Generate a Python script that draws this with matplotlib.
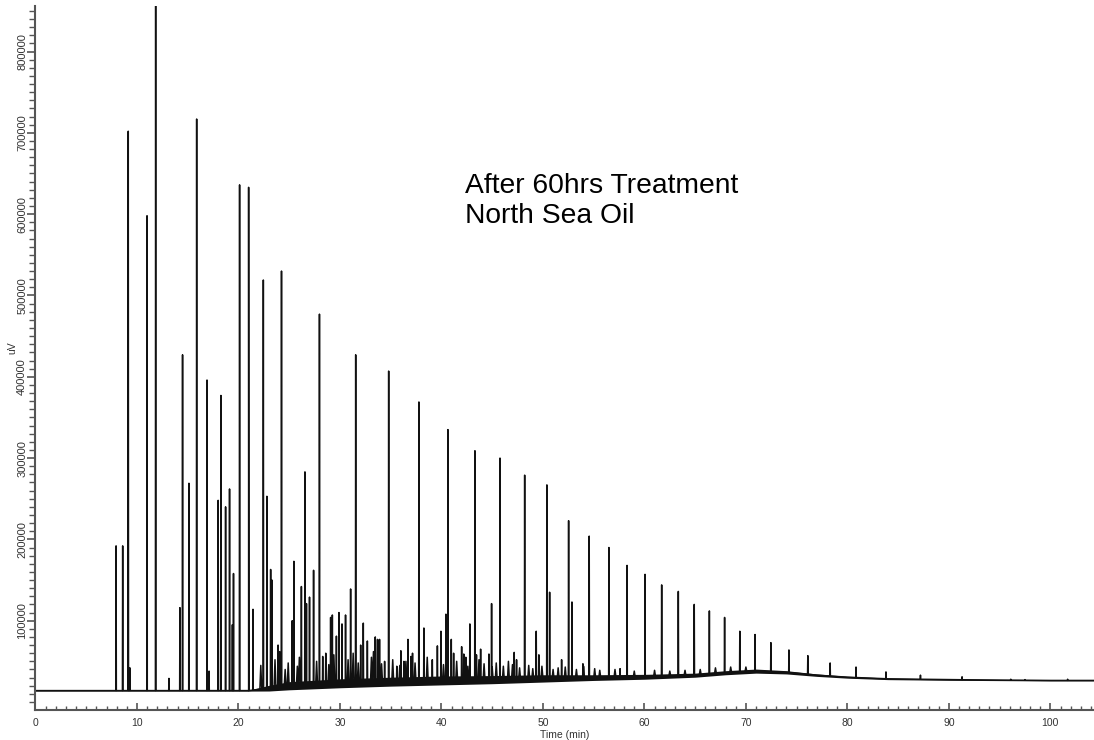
"""GC-FID chromatogram: North Sea oil after 60 hrs treatment."""
import numpy as np
import matplotlib
matplotlib.use("Agg")
import matplotlib.pyplot as plt
from matplotlib.ticker import MultipleLocator

plt.rcParams["font.family"] = ["Liberation Sans", "DejaVu Sans"]

# baseline of the trace (time in min, signal in uV)
base_t = [0, 7.5, 21, 23, 25, 30, 35, 40, 45, 50, 55, 60, 65, 68, 71, 74, 77, 80, 84, 90, 95, 100, 104.5]
base_v = [14000, 14000, 14000, 17000, 20000, 23000, 25000, 26500, 27500, 29000, 30000, 31000,
          33000, 36000, 38000, 36500, 33000, 30500, 28500, 27500, 27000, 26500, 26500]
# thickness of the noisy "grass" round the baseline
noise_v = [600, 600, 600, 3500, 5000, 5500, 5500, 5500, 5000, 4500, 3500, 3000,
           2500, 2500, 2500, 2000, 1500, 1200, 1000, 800, 700, 600, 600]

# resolved peaks: retention time (min) and apex signal (uV)
peak_t = [7.94, 8.59, 9.14, 9.3, 10.99, 11.84, 13.15, 14.23, 14.49, 15.12, 15.88, 16.90, 17.1,
          18.0, 18.27, 18.73, 19.12, 19.4, 19.51, 20.11, 21.0, 21.43, 22.45, 22.8, 23.17, 23.3,
          23.9, 24.05, 24.24, 25.3, 25.46, 26.2, 26.55, 26.7, 27.0, 27.4, 27.98, 28.3, 28.6,
          29.08, 29.25, 29.65, 29.9, 30.2, 30.55, 31.05, 31.55, 32.04, 32.3, 32.7, 33.48, 33.7,
          33.9, 34.4, 34.8, 35.6, 36.0, 36.3, 36.7, 37.0, 37.15, 37.78, 38.27, 39.1, 39.6, 39.95,
          40.44, 40.64, 40.97, 41.2, 41.99, 42.2, 42.4, 42.8, 43.3, 43.45, 43.86, 44.68, 44.94,
          45.77, 47.17, 47.4, 48.2, 49.34, 49.6, 50.39, 50.66, 51.84, 52.53, 52.86, 53.94, 54.56,
          56.5, 57.6, 58.29, 60.06, 61.7, 63.34, 64.91, 66.4, 67.9, 69.4, 70.9, 72.46, 74.24,
          76.1, 78.3, 80.85, 83.8, 87.2, 91.3, 96.1, 97.5, 101.7]
peak_v = [192000, 192000, 702000, 42000, 598000, 870000, 29000, 116000, 427000, 269000, 717000,
          396000, 38000, 248000, 377000, 240000, 262000, 95000, 158000, 636000, 633000, 114000,
          519000, 253000, 163000, 150000, 70000, 62000, 530000, 100000, 173000, 142000, 283000,
          121000, 129000, 162000, 477000, 56000, 60000, 104000, 107000, 81000, 110000, 96000,
          107000, 139000, 427000, 70000, 97000, 75000, 80000, 77000, 77000, 50000, 407000, 44000,
          63000, 50000, 77000, 56000, 60000, 369000, 91000, 52000, 69000, 87000, 108000, 335000,
          77000, 60000, 68000, 59000, 55000, 96000, 309000, 58000, 65000, 59000, 121000, 300000,
          61000, 52000, 279000, 87000, 58000, 267000, 135000, 52000, 223000, 123000, 47000, 204000,
          190000, 41000, 168000, 157000, 144000, 136000, 120000, 112000, 104000, 87000, 83000,
          73000, 64000, 57000, 48000, 43000, 37000, 33000, 31000, 28000, 27500, 28000]

# small unresolved peaks in the hump
grass_t = [22.2, 23.6, 24.6, 24.9, 25.8, 26.0, 27.7, 28.9, 29.4, 30.8, 31.3, 31.8, 33.1, 33.3,
           34.1, 35.2, 35.9, 36.5, 37.4, 38.6, 40.2, 41.5, 42.6, 43.7, 44.2, 45.0, 45.4, 46.1,
           46.6, 47.0, 47.7, 48.6, 49.0, 49.9, 51.0, 51.5, 52.2, 53.3, 54.0, 55.1, 55.6, 57.1,
           59.0, 61.0, 62.5, 64.0, 65.5, 67.0, 68.5, 70.0]
grass_v = [45000, 52000, 40000, 48000, 44000, 55000, 50000, 46000, 58000, 52000, 60000, 48000,
           55000, 62000, 47000, 52000, 45000, 50000, 48000, 55000, 46000, 50000, 44000, 52000,
           47000, 43000, 48000, 44000, 50000, 46000, 42000, 45000, 41000, 44000, 40000, 42000,
           43000, 40000, 44000, 41000, 39000, 40000, 38000, 39000, 38000, 39000, 40000, 42000,
           43000, 43000]

x_ticks = [0, 10, 20, 30, 40, 50, 60, 70, 80, 90, 100]
y_ticks = [100000, 200000, 300000, 400000, 500000, 600000, 700000, 800000]


def build_trace(peaks, base_times, base_values):
    """ Join the baseline and triangular peaks into one trace
        peaks: list of (time, apex, half width) """
    pts = [(t, v) for t, v in zip(base_times, base_values)]
    for t, v, hw in peaks:
        for dt in (-hw, hw):
            pts.append((t + dt, np.interp(t + dt, base_times, base_values)))
        pts.append((t, v))
    pts.sort(key=lambda p: p[0])
    return np.array([p[0] for p in pts]), np.array([p[1] for p in pts])


fig = plt.figure(figsize=(10.94, 7.40), dpi=100)
ax = fig.add_axes([35.5 / 1094, 30 / 740, 1 - 35.5 / 1094, 704 / 740])

# noisy band round the baseline
ax.fill_between(base_t, np.array(base_v) - np.array(noise_v), np.array(base_v) + np.array(noise_v),
                color="#111111", linewidth=0)

peaks = [(t, v, 0.025) for t, v in zip(peak_t, peak_v)]
peaks += [(t, v, 0.09) for t, v in zip(grass_t, grass_v)]
tt, vv = build_trace(peaks, base_t, base_v)
ax.plot(tt, vv, color="#111111", linewidth=1.1)

ax.set_xlim(0, 104.3)
ax.set_ylim(-9840, 856000)

for side in ["top", "right"]:
    ax.spines[side].set_visible(False)
for side in ["left", "bottom"]:
    ax.spines[side].set_color("#555555")
    ax.spines[side].set_linewidth(1.5)

ax.set_xticks(x_ticks)
ax.xaxis.set_minor_locator(MultipleLocator(1))
ax.set_yticks(y_ticks)
ax.yaxis.set_minor_locator(MultipleLocator(10000))
ax.tick_params(axis="x", which="major", direction="in", length=5, width=1.2, color="#555555",
               labelsize=7.5, pad=6, labelcolor="#333333")
ax.tick_params(axis="x", which="minor", direction="in", length=3, width=1.0, color="#555555")
ax.tick_params(axis="y", which="major", direction="out", length=6, width=1.2, color="#555555",
               labelsize=8, pad=0, labelcolor="#333333")
ax.tick_params(axis="y", which="minor", direction="out", length=4, width=1.0, color="#555555")
for lab in ax.get_yticklabels():
    lab.set_rotation(90)
    lab.set_va("center")

ax.set_xlabel("Time (min)", fontsize=7.5, labelpad=1, color="#333333")
fig.text(12 / 1094, 1 - 348 / 740, "uV", rotation=90, fontsize=7.5, color="#333333",
         ha="center", va="center")

fig.text(465 / 1094, 1 - 186 / 740, "After 60hrs Treatment", fontsize=20.3, ha="left", va="center")
fig.text(465 / 1094, 1 - 216 / 740, "North Sea Oil", fontsize=20.3, ha="left", va="center")

fig.savefig("out.png", dpi=100)
